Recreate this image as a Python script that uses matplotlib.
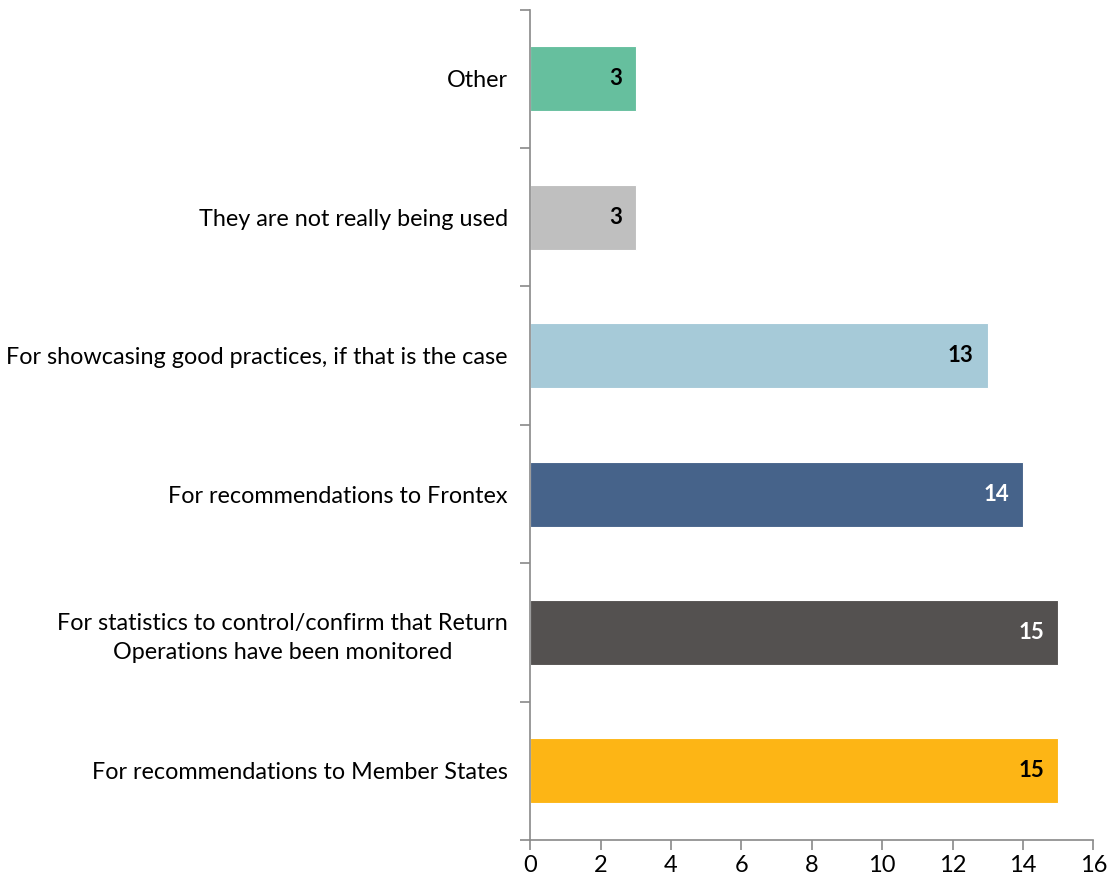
import matplotlib
matplotlib.use('Agg')
import numpy as np
from matplotlib import pyplot as plt

categories = ['For recommendations to Member States',
              'For statistics to control/confirm that Return\nOperations have been monitored',
              'For recommendations to Frontex',
              'For showcasing good practices, if that is the case',
              'They are not really being used',
              'Other']
values = [15, 15, 14, 13, 3, 3]
colors = ['#FDB515', '#545150', '#46638A', '#A6CAD8', '#BFBFBF', '#66BF9E']
label_colors = ['black', 'white', 'white', 'black', 'black', 'black']

plt.rcParams['font.family'] = ['Lato', 'DejaVu Sans']

fig = plt.figure(figsize=(11.09, 8.86), dpi=100)
ax = fig.add_axes([0.478, 0.052, 0.508, 0.937])

y = np.arange(len(categories))
bars = ax.barh(y, values, height=0.47, color=colors, edgecolor='white', linewidth=0.8)

for b, v, c in zip(bars, values, label_colors):
    ax.text(b.get_width() - 0.4, b.get_y() + b.get_height() / 2, str(v),
            ha='right', va='center', fontsize=16, fontweight='bold', color=c)

ax.set_xlim(0, 16)
ax.set_ylim(-0.5, len(categories) - 0.5)
ax.set_xticks(range(0, 17, 2))
ax.set_yticks(np.arange(-0.5, len(categories), 1))
ax.set_yticklabels([])
ax.set_yticks(y, minor=True)
ax.set_yticklabels(categories, minor=True, fontsize=16.8)
for t in ax.get_yticklabels(minor=True):
    t.set_multialignment('center')
    t.set_linespacing(1.45)
ax.tick_params(axis='y', which='minor', length=0, pad=16)
ax.tick_params(axis='y', which='major', length=7, color='#898989', width=1.2)
ax.tick_params(axis='x', length=7, color='#898989', width=1.2, labelsize=17)

for s in ['top', 'right']:
    ax.spines[s].set_visible(False)
for s in ['left', 'bottom']:
    ax.spines[s].set_color('#898989')
    ax.spines[s].set_linewidth(1.2)

plt.savefig('out.png', dpi=100)
